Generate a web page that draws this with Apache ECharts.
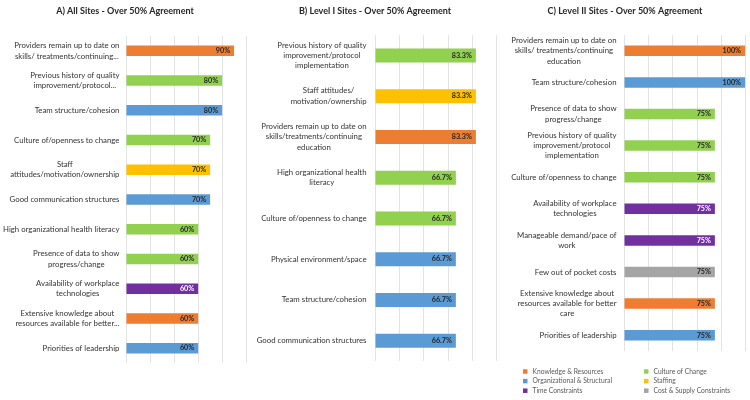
<!doctype html>
<meta charset="utf-8">
<style>
  html, body {
    margin: 0;
    height: 100%;
    background: #fff;
  }

  #chart {
    width: 750px;
    height: 400px;
  }
</style>
<script src="https://cdn.jsdelivr.net/npm/echarts@6/dist/echarts.min.js"></script>

<div id="chart"></div>

<script>
  const K = 'Knowledge & Resources'
  const C = 'Culture of Change'
  const O = 'Organizational & Structural'
  const S = 'Staffing'
  const T = 'Time Constraints'
  const $ = 'Cost & Supply Constraints'

  const groups = [K, C, O, S, T, $]
  const groupColors = ['#ED7D31', '#92D050', '#5B9BD5', '#FFC000', '#7030A0', '#A5A5A5']

  const titles = [
    'A) All Sites - Over 50% Agreement',
    'B) Level I Sites - Over 50% Agreement',
    'C) Level II Sites - Over 50% Agreement',
  ]

  // A) all sites
  const allLabels = [
    'Providers remain up to date on\nskills/ treatments/continuing...',
    'Previous history of quality\nimprovement/protocol...',
    'Team structure/cohesion',
    'Culture of/openness to change',
    'Staff\nattitudes/motivation/ownership',
    'Good communication structures',
    'High organizational health literacy',
    'Presence of data to show\nprogress/change',
    'Availability of workplace\ntechnologies',
    'Extensive knowledge about\nresources available for better...',
    'Priorities of leadership',
  ]
  const allGroups = [K, C, O, C, S, O, C, C, T, K, O]
  const allValues = [90, 80, 80, 70, 70, 70, 60, 60, 60, 60, 60]

  // B) level I sites
  const level1Labels = [
    'Previous history of quality\nimprovement/protocol\nimplementation',
    'Staff attitudes/\nmotivation/ownership',
    'Providers remain up to date on\nskills/treatments/continuing\neducation',
    'High organizational health\nliteracy',
    'Culture of/openness to change',
    'Physical environment/space',
    'Team structure/cohesion',
    'Good communication structures',
  ]
  const level1Groups = [C, S, K, C, C, O, O, O]
  const level1Values = [83.3, 83.3, 83.3, 66.7, 66.7, 66.7, 66.7, 66.7]

  // C) level II sites
  const level2Labels = [
    'Providers remain up to date on\nskills/ treatments/continuing\neducation',
    'Team structure/cohesion',
    'Presence of data to show\nprogress/change',
    'Previous history of quality\nimprovement/protocol\nimplementation',
    'Culture of/openness to change',
    'Availability of workplace\ntechnologies',
    'Manageable demand/pace of\nwork',
    'Few out of pocket costs',
    'Extensive knowledge about\nresources available for better\ncare',
    'Priorities of leadership',
  ]
  const level2Groups = [K, O, C, C, C, T, T, $, K, O]
  const level2Values = [100, 100, 75, 75, 75, 75, 75, 75, 75, 75]

  const FONT = 'Lato'
  const panels = [
    { labels: allLabels, groups: allGroups, values: allValues, grid: { left: 125, top: 36, width: 121, height: 327 }, barWidth: 10.5, margin: 7, cx: 125 },
    { labels: level1Labels, groups: level1Groups, values: level1Values, grid: { left: 375.5, top: 35, width: 120.5, height: 326 }, barWidth: 14, margin: 9, cx: 375 },
    { labels: level2Labels, groups: level2Groups, values: level2Values, grid: { left: 624.5, top: 35, width: 120.5, height: 316 }, barWidth: 10.5, margin: 8, cx: 625 },
  ]

  let chart = echarts.init(document.getElementById('chart'))

  let series = []
  panels.forEach((p, idx) => {
    groups.forEach((g, gi) => {
      if (!p.groups.includes(g)) return
      series.push({
        name: g,
        type: 'bar',
        xAxisIndex: idx,
        yAxisIndex: idx,
        stack: 'panel' + idx,
        barWidth: p.barWidth,
        itemStyle: { color: groupColors[gi] },
        label: {
          show: true,
          position: 'insideRight',
          distance: 4,
          formatter: ({value}) => value + '%',
          fontSize: 7.2,
          fontWeight: 'bold',
          fontFamily: FONT,
          color: g === T ? '#fff' : '#262626',
        },
        data: p.values.map((v, i) => p.groups[i] === g ? v : '-'),
      })
    })
  })

  const legendStyle = {
    orient: 'vertical',
    top: 367.5,
    padding: 0,
    itemWidth: 4.5,
    itemHeight: 4.5,
    itemGap: 1.6,
    icon: 'rect',
    selectedMode: false,
    textStyle: {
      fontSize: 6.7,
      lineHeight: 8,
      fontFamily: FONT,
      color: '#595959',
    },
  }

  chart.setOption({
    animation: false,
    title: panels.map((p, i) => ({
      text: titles[i],
      left: p.cx,
      top: 7,
      padding: 0,
      textAlign: 'center',
      textStyle: {
        fontSize: 9,
        fontWeight: 'bold',
        fontFamily: FONT,
        color: '#262626',
      },
    })),
    grid: panels.map(p => p.grid),
    xAxis: panels.map((p, i) => ({
      type: 'value',
      gridIndex: i,
      min: 0,
      max: 100,
      interval: 20,
      axisLabel: { show: false },
      axisLine: { show: false },
      axisTick: { show: false },
      splitLine: {
        lineStyle: {
          color: '#e3e3e3',
        },
      },
    })),
    yAxis: panels.map((p, i) => ({
      type: 'category',
      gridIndex: i,
      inverse: true,
      data: p.labels,
      axisLine: { show: false },
      axisTick: { show: false },
      axisLabel: {
        interval: 0,
        margin: p.margin,
        formatter: val => val.split('\n').map(l => '{c|' + l + '}').join('\n'),
        rich: {
          c: {
            align: 'center',
            fontSize: 7.8,
            lineHeight: 10.3,
            fontFamily: FONT,
            color: '#333',
          },
        },
      },
    })),
    legend: [
      Object.assign({ left: 523, data: [K, O, T] }, legendStyle),
      Object.assign({ left: 644, data: [C, S, $] }, legendStyle),
    ],
    series: series,
  })
</script>
